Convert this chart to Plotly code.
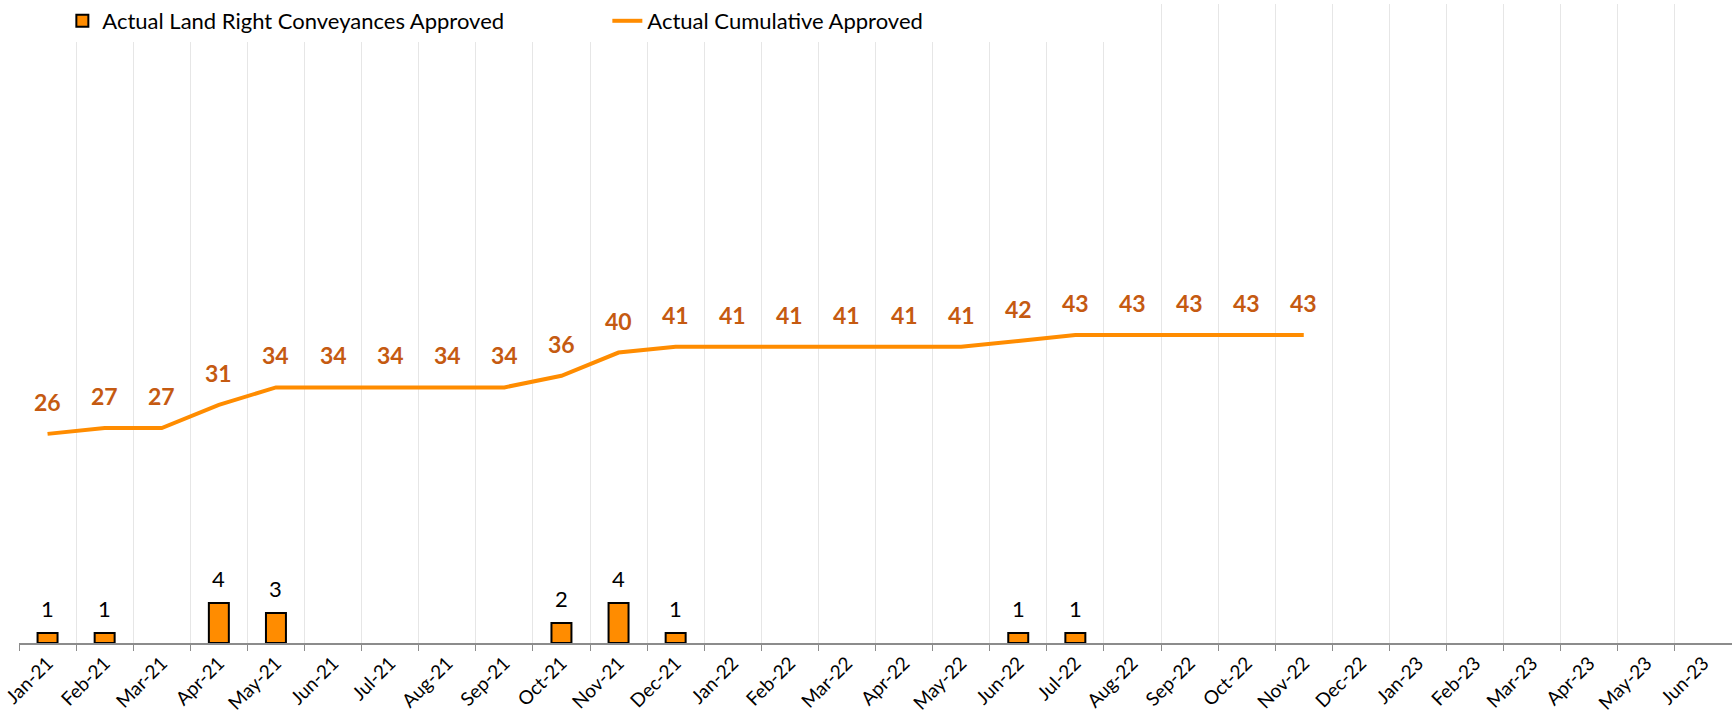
import plotly.graph_objects as go

months = ["Jan-21", "Feb-21", "Mar-21", "Apr-21", "May-21", "Jun-21", "Jul-21", "Aug-21",
          "Sep-21", "Oct-21", "Nov-21", "Dec-21", "Jan-22", "Feb-22", "Mar-22", "Apr-22",
          "May-22", "Jun-22", "Jul-22", "Aug-22", "Sep-22", "Oct-22", "Nov-22", "Dec-22",
          "Jan-23", "Feb-23", "Mar-23", "Apr-23", "May-23", "Jun-23"]

approved = [1, 1, None, 4, 3, None, None, None, None, 2, 4, 1, None, None, None, None,
            None, 1, 1, None, None, None, None, None, None, None, None, None, None, None]

cumulative = [26, 27, 27, 31, 34, 34, 34, 34, 34, 36, 40, 41, 41, 41, 41, 41,
              41, 42, 43, 43, 43, 43, 43, None, None, None, None, None, None, None]

ORANGE = "#FF8C00"
LABEL_ORANGE = "#C55A11"
FONT = "Lato"

fig = go.Figure()

fig.add_trace(go.Bar(
    x=months, y=approved, name="Actual Land Right Conveyances Approved",
    marker=dict(color=ORANGE, line=dict(color="#000000", width=2)),
    yaxis="y",
))

fig.add_trace(go.Scatter(
    x=months, y=cumulative, name="Actual Cumulative Approved",
    mode="lines", line=dict(color=ORANGE, width=4),
    yaxis="y2",
))

annotations = []
for m, v in zip(months, approved):
    if v is not None:
        annotations.append(dict(x=m, y=v, xref="x", yref="y", text=str(v),
                                showarrow=False, yshift=25,
                                font=dict(family=FONT, size=22, color="#000000")))
for m, v in zip(months, cumulative):
    if v is not None:
        annotations.append(dict(x=m, y=v, xref="x", yref="y2", text=f"<b>{v}</b>",
                                showarrow=False, yshift=32,
                                font=dict(family=FONT, size=23, color=LABEL_ORANGE)))

fig.update_layout(
    template="none",
    width=1732, height=715,
    margin=dict(l=19, r=0, t=4, b=72, autoexpand=False),
    paper_bgcolor="white", plot_bgcolor="white",
    font=dict(family=FONT, size=19, color="#000000"),
    bargap=0.65,
    showlegend=True,
    legend=dict(orientation="h", xref="container", yref="container",
                x=0.036, y=1.0, xanchor="left", yanchor="top",
                font=dict(family=FONT, size=22, color="#000000"),
                entrywidth=500, entrywidthmode="pixels",
                bgcolor="white", traceorder="normal"),
    xaxis=dict(type="category", tickson="boundaries", showgrid=True,
               gridcolor="#E6E6E6", gridwidth=1,
               showline=True, linecolor="#8C8C8C", linewidth=1.5,
               ticks="outside", ticklen=6, tickcolor="#8C8C8C",
               tickangle=-45, automargin=False,
               tickfont=dict(family=FONT, size=19, color="#000000")),
    yaxis=dict(range=[0, 64], visible=False, showgrid=False, zeroline=False),
    yaxis2=dict(range=[-10, 100], overlaying="y", side="right", visible=False,
                showgrid=False, zeroline=False),
    annotations=annotations,
)

fig.write_html("out.html")
